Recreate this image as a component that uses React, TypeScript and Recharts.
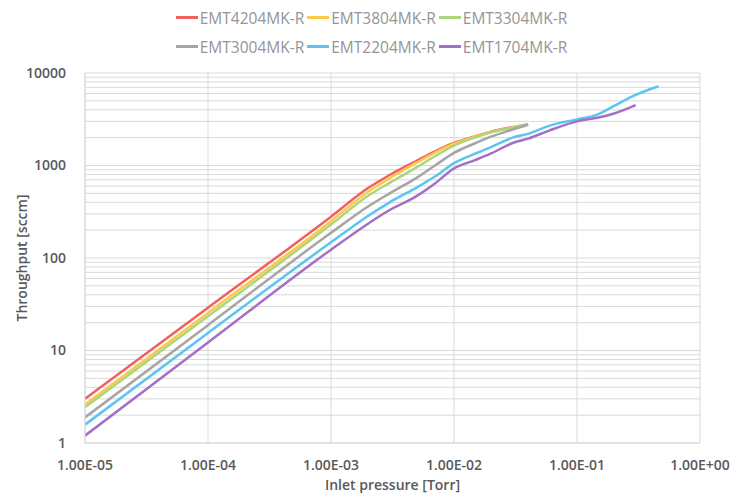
import React from "react";
import { CartesianGrid, Line, LineChart, XAxis, YAxis } from "recharts";

// inlet pressure [Torr]
const pressure = [1e-5, 1e-4, 1e-3, 2e-3, 3e-3, 5e-3, 7e-3, 1e-2, 1.5e-2, 2e-2, 3e-2, 4e-2, 6e-2, 1e-1, 1.5e-1, 2e-1, 3e-1, 4.6e-1];

// throughput [sccm]
const emt4204 = [3.0, 29, 280, 570, 790, 1130, 1420, 1750, 2080, 2320, 2600, 2800, null, null, null, null, null, null];
const emt3804 = [2.6, 25.5, 250, 520, 730, 1080, 1380, 1720, 2060, 2300, 2580, 2790, null, null, null, null, null, null];
const emt3304 = [2.43, 23.5, 230, 470, 650, 960, 1260, 1640, 2020, 2280, 2570, 2780, null, null, null, null, null, null];
const emt3004 = [1.89, 18.8, 187, 360, 500, 740, 1000, 1370, 1750, 2050, 2450, 2760, null, null, null, null, null, null];
const emt2204 = [1.58, 15.5, 148, 285, 400, 580, 760, 1060, 1350, 1580, 2000, 2200, 2700, 3150, 3600, 4400, 5800, 7200];
const emt1704 = [1.2, 12.2, 123, 235, 330, 470, 640, 930, 1150, 1350, 1750, 1950, 2400, 3000, 3300, 3650, 4500, null];

const seriesNames = ["EMT4204MK-R", "EMT3804MK-R", "EMT3304MK-R", "EMT3004MK-R", "EMT2204MK-R", "EMT1704MK-R"];
const seriesValues = [emt4204, emt3804, emt3304, emt3004, emt2204, emt1704];
const colors = ["#f2605d", "#fdc94b", "#add67c", "#a5a5a5", "#5bc5f2", "#a270c7"];

const xTicks = [1e-5, 1e-4, 1e-3, 1e-2, 1e-1, 1];
const xTickLabels = ["1.00E-05", "1.00E-04", "1.00E-03", "1.00E-02", "1.00E-01", "1.00E+00"];
const yMajor = [1, 10, 100, 1000, 10000];
const yMajorLabels = ["1", "10", "100", "1000", "10000"];

const yTicks: number[] = [];
yMajor.forEach((m, i) => {
  if (i === yMajor.length - 1) {
    yTicks.push(m);
    return;
  }
  for (let k = 1; k <= 9; k++) yTicks.push(m * k);
});

const rows = pressure.map((p, i) => {
  const row: Record<string, number | null> = { p };
  seriesNames.forEach((n, s) => {
    row[n] = seriesValues[s][i];
  });
  return row;
});

const font = "'Open Sans', 'Liberation Sans', sans-serif";
const axisText = "#595959";

const sameLog = (a: number, b: number) => Math.abs(Math.log10(a) - Math.log10(b)) < 1e-6;

function LegendBox() {
  const lines = [seriesNames.slice(0, 3), seriesNames.slice(3)];
  return (
    <div style={{ position: "absolute", left: 0, top: 3, width: 746, fontFamily: font, fontSize: 15.5, color: "#959595" }}>
      {lines.map((names, r) => (
        <div key={r} style={{ display: "flex", justifyContent: "center", height: 29, alignItems: "center" }}>
          {names.map((n) => {
            const c = colors[seriesNames.indexOf(n)];
            return (
              <span key={n} style={{ display: "inline-flex", alignItems: "center", marginRight: 3 }}>
                <span style={{ display: "inline-block", width: 22, height: 3, background: c, marginRight: 2 }} />
                {n}
              </span>
            );
          })}
        </div>
      ))}
    </div>
  );
}

export default function App() {
  return (
    <div style={{ position: "absolute", left: 0, top: 0, width: 746, height: 498, background: "#fff" }}>
      <LineChart width={746} height={498} data={rows} margin={{ top: 73, right: 46, bottom: 25, left: 25 }}>
        <CartesianGrid stroke="#d9d9d9" strokeWidth={1} />
        <XAxis
          dataKey="p"
          type="number"
          scale="log"
          domain={[1e-5, 1]}
          ticks={xTicks}
          interval={0}
          tickFormatter={(v: number) => xTickLabels[xTicks.findIndex((t) => sameLog(t, v))] ?? ""}
          tick={{ fill: axisText, fontSize: 14, fontWeight: 600, fontFamily: font }}
          tickLine={false}
          axisLine={{ stroke: "#d9d9d9" }}
          tickMargin={11}
          height={30}
          allowDataOverflow
          label={{ value: "Inlet pressure [Torr]", position: "insideBottom", offset: -17, fill: axisText, fontSize: 14, fontWeight: 600, fontFamily: font }}
        />
        <YAxis
          type="number"
          scale="log"
          domain={[1, 10000]}
          ticks={yTicks}
          interval={0}
          tickFormatter={(v: number) => {
            const i = yMajor.findIndex((t) => sameLog(t, v));
            return i >= 0 ? yMajorLabels[i] : "";
          }}
          tick={{ fill: axisText, fontSize: 14, fontWeight: 600, fontFamily: font }}
          tickLine={false}
          axisLine={{ stroke: "#d9d9d9" }}
          tickMargin={13}
          width={60}
          allowDataOverflow
          label={{ value: "Throughput [sccm]", angle: -90, position: "insideLeft", offset: -3, fill: axisText, fontSize: 14, fontWeight: 600, fontFamily: font, style: { textAnchor: "middle" } }}
        />
        {seriesNames.map((n, s) => (
          <Line
            key={n}
            type="monotone"
            dataKey={n}
            stroke={colors[s]}
            strokeWidth={2.5}
            dot={false}
            connectNulls={false}
            isAnimationActive={false}
          />
        ))}
      </LineChart>
      <LegendBox />
    </div>
  );
}
